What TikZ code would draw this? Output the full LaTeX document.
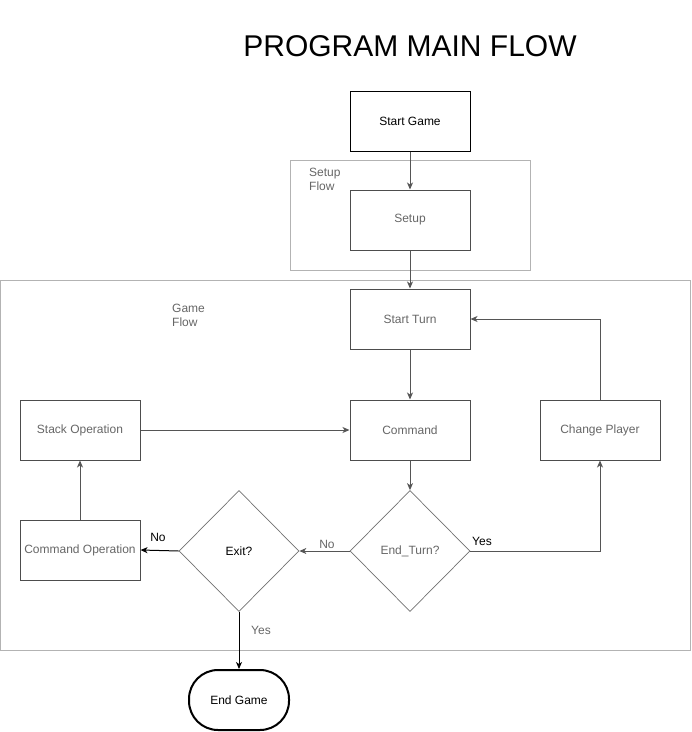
\documentclass[tikz,border=0pt]{standalone}
\usepackage{fontspec}
\setmainfont{Liberation Sans}
\usetikzlibrary{shapes.geometric,arrows.meta}
\definecolor{edgegray}{HTML}{4D4D4D}
\definecolor{textgray}{HTML}{666666}
\definecolor{framegray}{HTML}{B3B3B3}
\definecolor{linkgray}{HTML}{555555}
\begin{document}
\begin{tikzpicture}[x=1pt,y=-1pt,
  font=\fontsize{12}{14}\selectfont,
  procbox/.style={draw=edgegray,line width=1pt,rectangle,minimum width=120pt,minimum height=60pt,inner sep=0pt,text=textgray},
  keybox/.style={procbox,draw=black,text=black},
  decision/.style={draw=edgegray!80,line width=0.7pt,diamond,minimum width=120pt,minimum height=121pt,inner sep=0pt,text=textgray},
  container/.style={draw=framegray,line width=1pt},
  frametitle/.style={text=textgray,align=left,anchor=north west,inner sep=0pt},
  link/.style={draw=linkgray,line width=1pt,-{Stealth[length=7pt,width=6pt,inset=2pt]}},
  blacklink/.style={link,draw=black},
  lbl/.style={inner sep=0pt}
]
\useasboundingbox (0,0) rectangle (692,732);

% title
\node[lbl,font=\fontsize{30}{34}\selectfont] (title) at (410,46) {PROGRAM MAIN FLOW};

% containers
\draw[container] (290,160) rectangle (530,270);
\node[frametitle] (setupflow) at (309,168) {Setup\\Flow};
\draw[container] (0.5,280) rectangle (690,650);
\node[frametitle] (gameflow) at (172,304) {Game\\Flow};

% process boxes
\node[keybox] (start) at (410,121) {Start Game};
\node[procbox] (setup) at (410,220) {Setup};
\node[procbox] (turn) at (410,319) {Start Turn};
\node[procbox] (cmd) at (410,430) {Command};
\node[procbox] (stack) at (80,430) {Stack Operation};
\node[procbox] (change) at (600,430) {Change Player};
\node[procbox] (cmdop) at (80,550) {Command Operation};

% decisions
\node[decision] (endturn) at (410,551) {End\_Turn?};
\node[decision,text=black] (exit) at (239,551) {Exit?};

% terminal
\node[draw=black,line width=2pt,rounded corners=29pt,minimum width=100pt,minimum height=60pt,inner sep=0pt] (endgame) at (239,700) {End Game};

% connectors
\draw[link] (start) -- (setup);
\draw[link] (setup) -- (turn);
\draw[link] (turn) -- (cmd);
\draw[link] (stack) -- (cmd);
\draw[link] (cmd) -- (endturn);
\draw[link] (endturn.east) -| (change.south);
\draw[link] (change.north) |- (turn.east);
\draw[link] (endturn.west) -- (exit.east);
\draw[blacklink] (exit.west) -- (cmdop.east);
\draw[link] (cmdop) -- (stack);
\draw[blacklink] (exit.south) -- (endgame.north);

% branch labels
\node[lbl] (yes1) at (482,541) {Yes};
\node[lbl,text=textgray] (no1) at (327,544) {No};
\node[lbl] (no2) at (158,537) {No};
\node[lbl,text=textgray] (yes2) at (261,630) {Yes};
\end{tikzpicture}
\end{document}
